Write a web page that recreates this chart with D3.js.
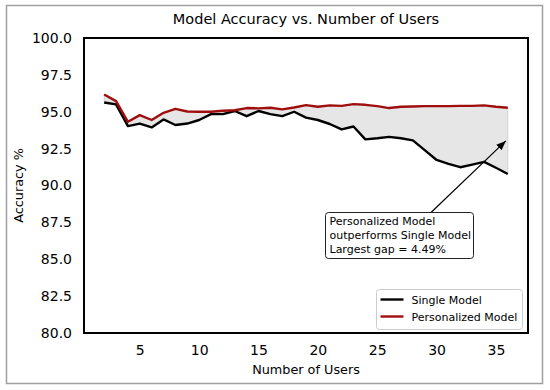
<!DOCTYPE html>
<html>
<head>
<meta charset="utf-8">
<script src="https://cdn.jsdelivr.net/npm/d3@7"></script>
<style>
  body { margin: 0; background: #fff; }
  svg { display: block; font-family: 'DejaVu Sans', sans-serif; }
</style>
</head>
<body>
<svg width="550" height="390"></svg>
<script>
// number of users on the x axis
let users = [2, 3, 4, 5, 6, 7, 8, 9, 10, 11, 12, 13, 14, 15, 16, 17, 18, 19,
  20, 21, 22, 23, 24, 25, 26, 27, 28, 29, 30, 31, 32, 33, 34, 35, 36]

// accuracy of one shared model
let singleModel = [95.63, 95.5, 94.03, 94.2, 93.94, 94.48, 94.1, 94.2, 94.44, 94.84,
  94.84, 95.05, 94.7, 95.05, 94.84, 94.7, 95.0, 94.6, 94.44, 94.17, 93.8, 94.0,
  93.13, 93.2, 93.3, 93.2, 93.06, 92.4, 91.73, 91.46, 91.24, 91.42, 91.6, 91.2, 90.78]

// accuracy of the personalized models
let personalModel = [96.17, 95.72, 94.32, 94.77, 94.44, 94.93, 95.2, 95.02, 95.0, 95.0,
  95.07, 95.1, 95.25, 95.23, 95.27, 95.16, 95.29, 95.45, 95.34, 95.43, 95.4, 95.52,
  95.47, 95.38, 95.25, 95.34, 95.36, 95.38, 95.38, 95.38, 95.4, 95.4, 95.43, 95.34, 95.27]

let yTicks = [80, 82.5, 85, 87.5, 90, 92.5, 95, 97.5, 100]
let xTicks = [5, 10, 15, 20, 25, 30, 35]
let seriesNames = ['Single Model', 'Personalized Model']
let seriesColors = ['#000000', '#a00d0d']

let svg = d3.select('svg')
let margin = { left: 84, right: 22, top: 38, bottom: 57 }
let width = +svg.attr('width')
let height = +svg.attr('height')

let rows = users.map(function (u, i) {
  return { u: u, single: singleModel[i], personal: personalModel[i] }
})

// matplotlib style 5% padding on the x range
let pad = (d3.max(users) - d3.min(users)) * 0.05
let x = d3.scaleLinear()
  .domain([d3.min(users) - pad, d3.max(users) + pad])
  .range([margin.left, width - margin.right])
let y = d3.scaleLinear()
  .domain([80, 100])
  .range([height - margin.bottom, margin.top])

// outer frame
svg.append('rect')
  .attr('x', 6.5).attr('y', 5.5)
  .attr('width', 536).attr('height', 378)
  .attr('fill', '#fff')
  .attr('stroke', '#a0a0a0')
  .attr('stroke-width', 1.5)

svg.append('text')
  .attr('x', (x.range()[0] + x.range()[1]) / 2)
  .attr('y', 23.5)
  .attr('text-anchor', 'middle')
  .style('font-size', '14.5px')
  .text('Model Accuracy vs. Number of Users')

// gap between the two models
let gap = d3.area()
  .x(function (d) { return x(d.u) })
  .y0(function (d) { return y(d.single) })
  .y1(function (d) { return y(Math.max(d.personal, d.single)) })

svg.append('path')
  .datum(rows)
  .attr('d', gap)
  .attr('fill', '#e6e6e6')
  .attr('stroke', '#cccccc')
  .attr('stroke-width', 0.8)

let lineSingle = d3.line()
  .x(function (d) { return x(d.u) })
  .y(function (d) { return y(d.single) })
let linePersonal = d3.line()
  .x(function (d) { return x(d.u) })
  .y(function (d) { return y(d.personal) })

svg.append('path')
  .datum(rows)
  .attr('d', lineSingle)
  .attr('fill', 'none')
  .attr('stroke', seriesColors[0])
  .attr('stroke-width', 2.4)
  .attr('stroke-linejoin', 'round')

svg.append('path')
  .datum(rows)
  .attr('d', linePersonal)
  .attr('fill', 'none')
  .attr('stroke', seriesColors[1])
  .attr('stroke-width', 2.4)
  .attr('stroke-linejoin', 'round')

// axes, without tick marks
let xAxis = svg.append('g')
  .attr('transform', 'translate(0,' + (height - margin.bottom) + ')')
  .call(d3.axisBottom(x).tickValues(xTicks).tickSize(0).tickPadding(12))
xAxis.select('.domain').remove()
xAxis.selectAll('text')
  .style('font-family', 'DejaVu Sans, sans-serif')
  .style('font-size', '14px')
  .attr('fill', '#000')

let yAxis = svg.append('g')
  .attr('transform', 'translate(' + margin.left + ',0)')
  .call(d3.axisLeft(y).tickValues(yTicks).tickFormat(d3.format('.1f')).tickSize(0).tickPadding(12))
yAxis.select('.domain').remove()
yAxis.selectAll('text')
  .style('font-family', 'DejaVu Sans, sans-serif')
  .style('font-size', '14px')
  .attr('fill', '#000')

// plot frame
svg.append('rect')
  .attr('x', x.range()[0]).attr('y', y.range()[1])
  .attr('width', x.range()[1] - x.range()[0])
  .attr('height', y.range()[0] - y.range()[1])
  .attr('fill', 'none')
  .attr('stroke', '#000')
  .attr('stroke-width', 2)

svg.append('text')
  .attr('x', (x.range()[0] + x.range()[1]) / 2)
  .attr('y', 374)
  .attr('text-anchor', 'middle')
  .style('font-size', '12.8px')
  .text('Number of Users')

svg.append('text')
  .attr('transform', 'translate(23,' + (y.range()[0] + y.range()[1]) / 2 + ') rotate(-90)')
  .attr('text-anchor', 'middle')
  .style('font-size', '12.8px')
  .text('Accuracy %')

// annotation for the largest gap
let last = rows[rows.length - 1]
let tipX = x(last.u) - 2
let tipY = y((last.single + last.personal) / 2)
let boxX = 325.5
let boxY = 212.5

svg.append('defs').append('marker')
  .attr('id', 'arrow')
  .attr('viewBox', '0 -5 10 10')
  .attr('refX', 10)
  .attr('refY', 0)
  .attr('markerWidth', 8)
  .attr('markerHeight', 8)
  .attr('orient', 'auto')
  .append('path')
  .attr('d', 'M0,-4L10,0L0,4')

svg.append('line')
  .attr('x1', 431).attr('y1', boxY)
  .attr('x2', tipX).attr('y2', tipY)
  .attr('stroke', '#000')
  .attr('stroke-width', 1.2)
  .attr('marker-end', 'url(#arrow)')

svg.append('rect')
  .attr('x', boxX).attr('y', boxY)
  .attr('width', 148).attr('height', 46)
  .attr('rx', 3)
  .attr('fill', '#fff')
  .attr('stroke', '#222')
  .attr('stroke-width', 1)

let gapValue = d3.max(rows, function (d) { return d.personal - d.single })
let noteLines = ['Personalized Model', 'outperforms Single Model', 'Largest gap = ' + gapValue.toFixed(2) + '%']
svg.append('g').selectAll('text')
  .data(noteLines)
  .enter().append('text')
  .attr('x', boxX + 4)
  .attr('y', function (d, i) { return boxY + 12 + i * 14 })
  .style('font-size', '11px')
  .text(function (d) { return d })

// legend
let legend = svg.append('g').attr('transform', 'translate(376.5,289.5)')
legend.append('rect')
  .attr('width', 146).attr('height', 40)
  .attr('rx', 3)
  .attr('fill', '#fff')
  .attr('stroke', '#cccccc')
legend.selectAll('line')
  .data(seriesNames)
  .enter().append('line')
  .attr('x1', 4).attr('x2', 27)
  .attr('y1', function (d, i) { return 10 + i * 17 })
  .attr('y2', function (d, i) { return 10 + i * 17 })
  .attr('stroke', function (d, i) { return seriesColors[i] })
  .attr('stroke-width', 2.4)
legend.selectAll('text')
  .data(seriesNames)
  .enter().append('text')
  .attr('x', 35)
  .attr('y', function (d, i) { return 14 + i * 17 })
  .style('font-size', '11px')
  .text(function (d) { return d })
</script>
</body>
</html>
